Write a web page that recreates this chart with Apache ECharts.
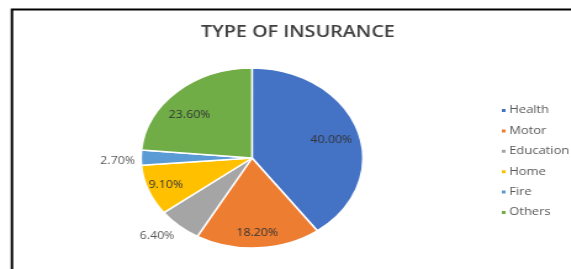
<!DOCTYPE html>
<html>
<head>
<meta charset="utf-8">
<script src="https://cdn.jsdelivr.net/npm/echarts@6/dist/echarts.min.js"></script>
<style>
    html, body { margin: 0; padding: 0; background: #fff; overflow: hidden; }
    /* the reference is a horizontally stretched screenshot, so stretch the chart box too */
    #chart { width: 463px; height: 269px; transform: scaleX(1.233); transform-origin: 0 0; }
</style>
</head>
<body>
<div id="chart"></div>
<script>
const categories = ['Health', 'Motor', 'Education', 'Home', 'Fire', 'Others'];
const shares = [40.0, 18.2, 6.4, 9.1, 2.7, 23.6];
const colors = ['#4472C4', '#ED7D31', '#A5A5A5', '#FFC000', '#5B9BD5', '#70AD47'];
const outsideLabels = ['Education', 'Fire'];

// small nudges so labels sit where Excel's "best fit" put them
const labelNudge = {
    Health: [-7, 5],
    Others: [0, 12],
    Education: [5, 6],
    Fire: [0, 3]
};

const chart = echarts.init(document.getElementById('chart'));

const pieData = categories.map((name, i) => ({
    name: name,
    value: shares[i],
    itemStyle: { color: colors[i] }
}));

// second transparent ring only carries the labels, so "inside" lands near 0.8r
const labelData = categories.map((name, i) => {
    const outside = outsideLabels.indexOf(name) >= 0;
    return {
        name: name,
        value: shares[i],
        label: {
            position: outside ? 'outside' : 'inside',
            color: outside ? '#595959' : '#333',
            offset: labelNudge[name] || [0, 0]
        },
        labelLine: { show: false, length: name === 'Education' ? 6 : 0, length2: 0 }
    };
});

const option = {
    animation: false,
    backgroundColor: '#fff',
    color: colors,
    title: {
        text: 'TYPE OF INSURANCE',
        left: 158,
        top: 19,
        textStyle: { fontFamily: 'Open Sans', fontSize: 16, fontWeight: 600, color: '#404040' }
    },
    legend: {
        orient: 'vertical',
        left: 400,
        top: 99.5,
        data: categories,
        icon: 'rect',
        itemWidth: 5,
        itemHeight: 5,
        itemGap: 8.4,
        textStyle: { fontFamily: 'Open Sans', fontSize: 10.5, lineHeight: 12, color: '#595959', padding: [0, 0, 0, -3] }
    },
    graphic: [{
        type: 'rect',
        shape: { x: 9.7, y: 9.5, width: 600, height: 300 },
        style: { fill: 'none', stroke: '#000', lineWidth: 2 },
        silent: true
    }],
    series: [
        {
            name: 'Insurance',
            type: 'pie',
            center: [204.4, 158],
            radius: [0, 90],
            startAngle: 90,
            clockwise: true,
            label: { show: false },
            labelLine: { show: false },
            itemStyle: { borderColor: '#fff', borderWidth: 1.5 },
            data: pieData
        },
        {
            name: 'Labels',
            type: 'pie',
            center: [204.4, 158],
            radius: [54, 90],
            startAngle: 90,
            clockwise: true,
            silent: true,
            avoidLabelOverlap: false,
            itemStyle: { color: 'rgba(0,0,0,0)', borderWidth: 0 },
            label: {
                show: true,
                formatter: p => p.value.toFixed(2) + '%',
                fontFamily: 'Open Sans',
                fontSize: 10
            },
            emphasis: { disabled: true },
            data: labelData
        }
    ]
};

chart.setOption(option);
</script>
</body>
</html>
